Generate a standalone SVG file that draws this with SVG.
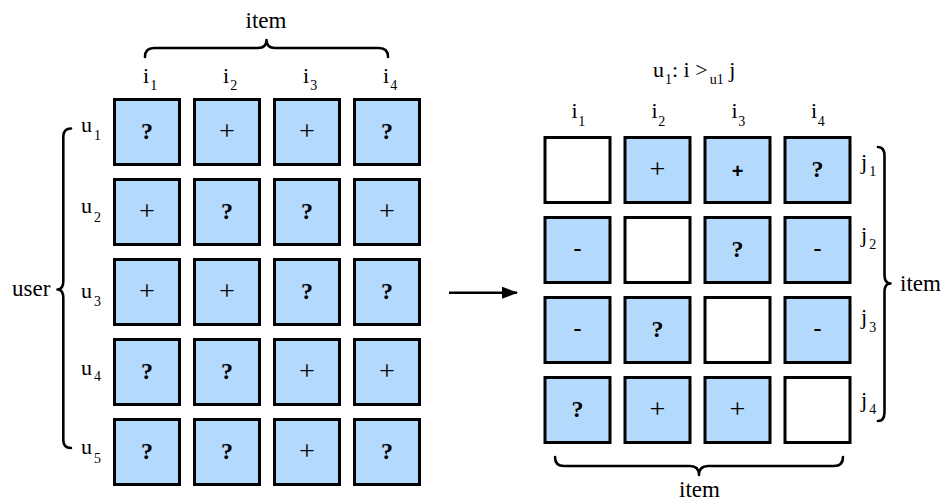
<svg xmlns="http://www.w3.org/2000/svg" width="943" height="502" viewBox="0 0 943 502">
<style>
.b{fill:#b3d9fd;stroke:#000;stroke-width:3}
.w{fill:#fff;stroke:#000;stroke-width:3}
.t{font-family:"Liberation Serif","Times New Roman",serif;fill:#000}
.s{font-family:"Liberation Serif","Times New Roman",serif;font-size:24px;text-anchor:middle;fill:#000}
.p{font-size:28px}
.q{font-weight:bold}
.lab{font-size:22px}
.big{font-size:23px}
.sub{font-size:14px}
.br{fill:none;stroke:#000;stroke-width:2.6;stroke-linejoin:round;stroke-linecap:round}
</style>
<defs>
<marker id="ah" markerWidth="16" markerHeight="12" refX="15" refY="6" orient="auto" markerUnits="userSpaceOnUse">
<path d="M0,0 L16,6 L0,12 Z" fill="#000"/>
</marker>
</defs>

<g id="left-labels" class="t">
<text class="big" x="266" y="28" text-anchor="middle">item</text>
<text class="lab" x="143" y="83">i<tspan class="sub" dx="1" dy="7">1</tspan></text>
<text class="lab" x="223" y="83">i<tspan class="sub" dx="1" dy="7">2</tspan></text>
<text class="lab" x="303" y="83">i<tspan class="sub" dx="1" dy="7">3</tspan></text>
<text class="lab" x="383" y="83">i<tspan class="sub" dx="1" dy="7">4</tspan></text>
<text class="big" x="12" y="295.5">user</text>
<text class="lab" x="81" y="132">u<tspan class="sub" dx="2" dy="8">1</tspan></text>
<text class="lab" x="81" y="213">u<tspan class="sub" dx="2" dy="9">2</tspan></text>
<text class="lab" x="81" y="298">u<tspan class="sub" dx="2" dy="8">3</tspan></text>
<text class="lab" x="81" y="375">u<tspan class="sub" dx="2" dy="6">4</tspan></text>
<text class="lab" x="81" y="454">u<tspan class="sub" dx="2" dy="9">5</tspan></text>
</g>

<g id="left-braces">
<path class="br" d="M145,57 Q145,48 154,48 L258,48 Q266.5,48 266.5,40 Q266.5,48 275,48 L379,48 Q388,48 388,57"/>
<path class="br" d="M71,128.5 Q63.3,128.5 63.3,137 L63.3,281 Q63.3,289.5 57.5,289.5 Q63.3,289.5 63.3,298 L63.3,440 Q63.3,448 71,448"/>
</g>

<g id="left-grid">
<g id="u1">
<rect class="b" x="114.5" y="99.5" width="65" height="65"/>
<rect class="b" x="194.5" y="99.5" width="65" height="65"/>
<rect class="b" x="274.5" y="99.5" width="65" height="65"/>
<rect class="b" x="354.5" y="99.5" width="65" height="65"/>
<text class="s q" x="147" y="139">?</text>
<text class="s p" x="227" y="140">+</text>
<text class="s p" x="307" y="140">+</text>
<text class="s q" x="387" y="139">?</text>
</g>
<g id="u2">
<rect class="b" x="114.5" y="179.5" width="65" height="65"/>
<rect class="b" x="194.5" y="179.5" width="65" height="65"/>
<rect class="b" x="274.5" y="179.5" width="65" height="65"/>
<rect class="b" x="354.5" y="179.5" width="65" height="65"/>
<text class="s p" x="147" y="220">+</text>
<text class="s q" x="227" y="219">?</text>
<text class="s q" x="307" y="219">?</text>
<text class="s p" x="387" y="220">+</text>
</g>
<g id="u3">
<rect class="b" x="114.5" y="259.5" width="65" height="65"/>
<rect class="b" x="194.5" y="259.5" width="65" height="65"/>
<rect class="b" x="274.5" y="259.5" width="65" height="65"/>
<rect class="b" x="354.5" y="259.5" width="65" height="65"/>
<text class="s p" x="147" y="300">+</text>
<text class="s p" x="227" y="300">+</text>
<text class="s q" x="307" y="299">?</text>
<text class="s q" x="387" y="299">?</text>
</g>
<g id="u4">
<rect class="b" x="114.5" y="339.5" width="65" height="65"/>
<rect class="b" x="194.5" y="339.5" width="65" height="65"/>
<rect class="b" x="274.5" y="339.5" width="65" height="65"/>
<rect class="b" x="354.5" y="339.5" width="65" height="65"/>
<text class="s q" x="147" y="379">?</text>
<text class="s q" x="227" y="379">?</text>
<text class="s p" x="307" y="380">+</text>
<text class="s p" x="387" y="380">+</text>
</g>
<g id="u5">
<rect class="b" x="114.5" y="419.5" width="65" height="65"/>
<rect class="b" x="194.5" y="419.5" width="65" height="65"/>
<rect class="b" x="274.5" y="419.5" width="65" height="65"/>
<rect class="b" x="354.5" y="419.5" width="65" height="65"/>
<text class="s q" x="147" y="459">?</text>
<text class="s q" x="227" y="459">?</text>
<text class="s p" x="307" y="460">+</text>
<text class="s q" x="387" y="459">?</text>
</g>
</g>

<g id="connectors">
<line x1="449" y1="292.7" x2="517" y2="292.7" stroke="#000" stroke-width="2.4" marker-end="url(#ah)"/>
</g>

<g id="right-labels" class="t">
<text class="lab" x="653" y="76.7">u<tspan class="sub" dx="1" dy="7">1</tspan><tspan dy="-7">: i &gt;</tspan><tspan class="sub" dx="2" dy="7">u1</tspan><tspan dy="-7"> j</tspan></text>
<text class="lab" x="571.5" y="118.3">i<tspan class="sub" dx="0.5" dy="7.5">1</tspan></text>
<text class="lab" x="651.5" y="118.3">i<tspan class="sub" dx="0.5" dy="7.5">2</tspan></text>
<text class="lab" x="731.5" y="118.3">i<tspan class="sub" dx="0.5" dy="7.5">3</tspan></text>
<text class="lab" x="811" y="118.3">i<tspan class="sub" dx="0.5" dy="7.5">4</tspan></text>
<text class="lab" x="861" y="168.5">j<tspan class="sub" dx="2" dy="7.5">1</tspan></text>
<text class="lab" x="861" y="242">j<tspan class="sub" dx="2" dy="6.5">2</tspan></text>
<text class="lab" x="861" y="323.5">j<tspan class="sub" dx="2" dy="8">3</tspan></text>
<text class="lab" x="861" y="407">j<tspan class="sub" dx="2" dy="6.5">4</tspan></text>
<text class="big" x="900" y="291">item</text>
<text class="big" x="699.5" y="496.5" text-anchor="middle">item</text>
</g>

<g id="right-braces">
<path class="br" d="M878,147 Q884.5,147 884.5,156 L884.5,275 Q884.5,283.5 890.5,283.5 Q884.5,283.5 884.5,292 L884.5,412 Q884.5,421 878,421"/>
<path class="br" d="M555,457 Q555,466 564,466 L690,466 Q699,466 699,475 Q699,466 708,466 L834,466 Q843,466 843,457"/>
</g>

<g id="right-grid">
<g id="j1">
<rect class="w" x="545" y="137.5" width="65" height="65"/>
<rect class="b" x="625" y="137.5" width="65" height="65"/>
<rect class="b" x="705" y="137.5" width="65" height="65"/>
<rect class="b" x="785" y="137.5" width="65" height="65"/>
<text class="s p" x="657.5" y="178">+</text>
<text x="737.5" y="178" font-family="Liberation Sans, Arial, sans-serif" font-weight="bold" font-size="20" text-anchor="middle">+</text>
<text class="s q" x="817.5" y="177">?</text>
</g>
<g id="j2">
<rect class="b" x="545" y="217.5" width="65" height="65"/>
<rect class="w" x="625" y="217.5" width="65" height="65"/>
<rect class="b" x="705" y="217.5" width="65" height="65"/>
<rect class="b" x="785" y="217.5" width="65" height="65"/>
<text class="s q" x="577.5" y="256">-</text>
<text class="s q" x="737.5" y="257">?</text>
<text class="s q" x="817.5" y="256">-</text>
</g>
<g id="j3">
<rect class="b" x="545" y="297.5" width="65" height="65"/>
<rect class="b" x="625" y="297.5" width="65" height="65"/>
<rect class="w" x="705" y="297.5" width="65" height="65"/>
<rect class="b" x="785" y="297.5" width="65" height="65"/>
<text class="s q" x="577.5" y="336">-</text>
<text class="s q" x="657.5" y="337">?</text>
<text class="s q" x="817.5" y="336">-</text>
</g>
<g id="j4">
<rect class="b" x="545" y="377.5" width="65" height="65"/>
<rect class="b" x="625" y="377.5" width="65" height="65"/>
<rect class="b" x="705" y="377.5" width="65" height="65"/>
<rect class="w" x="785" y="377.5" width="65" height="65"/>
<text class="s q" x="577.5" y="417">?</text>
<text class="s p" x="657.5" y="418">+</text>
<text class="s p" x="737.5" y="418">+</text>
</g>
</g>
</svg>
